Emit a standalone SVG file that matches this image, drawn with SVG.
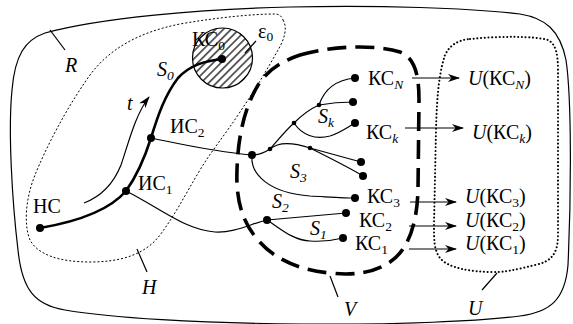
<svg xmlns="http://www.w3.org/2000/svg" width="573" height="324" viewBox="0 0 573 324">
<style>
text{font-family:"Liberation Serif","Times New Roman",Times,serif;font-size:20px;fill:#000}
.it{font-style:italic}
.sub{font-size:13.5px}
.ln{fill:none;stroke:#000;stroke-width:1.2}
.thick{fill:none;stroke:#000;stroke-width:2.6}
.dot{fill:#000}
</style>
<defs>
<pattern id="hatch" patternUnits="userSpaceOnUse" width="5.5" height="10" patternTransform="rotate(45)">
<line x1="2.7" y1="0" x2="2.7" y2="10" stroke="#000" stroke-width="1.2"/>
</pattern>
<marker id="arr" viewBox="0 0 12 8" refX="11" refY="4" markerWidth="12" markerHeight="8" markerUnits="userSpaceOnUse" orient="auto">
<path d="M0,0 L12,4 L0,8 L3.5,4 Z" fill="#000"/>
</marker>
</defs>
<rect width="573" height="324" fill="#fff"/>
<g id="regions">
<path id="R" class="ln" d="M45,33 C100,18 200,9 290,7 C380,5 470,8 520,14 C545,18 560,30 566,60 C572,100 571,200 568,265 C565,300 550,312 520,316 C480,321 400,325 300,324 C200,323 110,318 65,310 C35,305 22,290 18,250 C12,200 8,130 12,90 C15,55 25,40 45,33 Z"/>
<path id="H" fill="none" stroke="#000" stroke-width="1" stroke-dasharray="2,2" d="M283,20 C288,28 284,40 278,50 C268,68 255,90 240,112 C225,135 212,150 200,170 C185,195 175,215 160,235 C145,255 120,262 90,262 C60,262 38,255 30,240 C24,225 25,200 35,175 C45,150 65,110 90,75 C110,48 140,32 180,24 C220,17 255,14 275,14 C280,14 282,17 283,20 Z"/>
<path id="V" fill="none" stroke="#000" stroke-width="3.6" stroke-dasharray="19,9" d="M300,55 C330,46 375,44 400,52 C415,58 419,75 419,100 L418,190 C417,225 408,250 390,262 C375,272 355,276 330,273 C300,270 275,260 258,240 C240,220 236,195 237,170 C238,135 245,105 260,82 C270,68 285,60 300,55 Z"/>
<path id="U" fill="none" stroke="#000" stroke-width="2" stroke-linecap="round" stroke-dasharray="0.1,3.6" d="M470,39 C500,36 535,36 548,40 C556,44 558,55 558,70 L558,235 C558,255 550,262 535,265 C515,270 505,272 495,272 C470,272 448,268 440,258 C434,250 434,240 434,225 L436,130 C437,90 440,70 445,55 C450,45 458,40 470,39 Z"/>
<circle id="eps0" cx="222.5" cy="58" r="30" fill="url(#hatch)" stroke="#000" stroke-width="1.2"/>
<line class="ln" x1="50" y1="30" x2="65" y2="50"/>
<line class="ln" x1="137" y1="249" x2="147" y2="272"/>
<line class="ln" x1="330" y1="276" x2="338" y2="297"/>
<line class="ln" x1="497" y1="273" x2="482" y2="290"/>
<line class="ln" x1="256" y1="41" x2="245" y2="53"/>
<text class="it" x="65" y="72">R</text>
<text class="it" x="142" y="294">H</text>
<text class="it" x="344" y="316">V</text>
<text class="it" x="468" y="315">U</text>
<text x="258" y="38">ε<tspan class="sub" dy="3">0</tspan></text>
</g>
<g id="connectors">
<path class="thick" d="M40,228 C75,222 108,212 126,191 C136,177 144,160 151,138 C158,115 165,95 178,78 C190,65 205,61 222,59"/>
<path class="ln" marker-end="url(#arr)" d="M84,203 C105,195 115,180 121,165 C128,145 135,115 149,97"/>
<path class="ln" d="M151,138 C185,145 215,152 252,155"/>
<path class="ln" d="M126,191 C160,208 185,230 215,232 C235,233 250,224 267,220"/>
<path class="ln" d="M252,155 C258,155 264,153 270,149"/>
<path class="ln" d="M270,149 C278,140 286,130 294,123"/>
<path class="ln" d="M294,123 C302,115 310,109 319,105"/>
<path class="ln" d="M319,105 C324,90 335,80 355,78"/>
<path class="ln" d="M319,105 C330,103 342,102 353,102"/>
<path class="ln" d="M294,123 C302,135 315,140 330,136 C340,133 348,127 355,123"/>
<path class="ln" d="M270,149 C278,142 292,142 310,148 L361,162"/>
<path class="ln" d="M310,148 C330,158 350,168 363,176"/>
<path class="ln" d="M252,155 C250,175 270,193 310,196 C330,197 345,198 355,198"/>
<path class="ln" d="M267,220 L346,213"/>
<path class="ln" d="M267,220 C280,228 292,240 310,241 C325,242 335,240 343,238"/>
<line class="ln" x1="412" y1="78" x2="459" y2="78" marker-end="url(#arr)"/>
<line class="ln" x1="405" y1="128" x2="463" y2="128" marker-end="url(#arr)"/>
<line class="ln" x1="410" y1="202" x2="456" y2="202" marker-end="url(#arr)"/>
<line class="ln" x1="409" y1="226" x2="456" y2="226" marker-end="url(#arr)"/>
<line class="ln" x1="409" y1="249" x2="456" y2="249" marker-end="url(#arr)"/>
<circle class="dot" cx="270" cy="149" r="2.3"/>
<circle class="dot" cx="294" cy="123" r="2.3"/>
<circle class="dot" cx="319" cy="105" r="2.3"/>
<circle class="dot" cx="310" cy="148" r="2.3"/>
<circle class="dot" cx="353" cy="102" r="4"/>
<circle class="dot" cx="361" cy="162" r="4"/>
<circle class="dot" cx="363" cy="176" r="4"/>
<text class="it" x="157" y="76">S<tspan class="sub" dy="4">0</tspan></text>
<text class="it" x="127" y="110">t</text>
<text class="it" x="318" y="123">S<tspan class="sub" dy="4">k</tspan></text>
<text class="it" x="290" y="178">S<tspan class="sub" dy="4">3</tspan></text>
<text class="it" x="272" y="208">S<tspan class="sub" dy="4">2</tspan></text>
<text class="it" x="310" y="235">S<tspan class="sub" dy="4">1</tspan></text>
</g>
<g id="node-NS"><circle class="dot" cx="40" cy="228" r="4"/><text x="33" y="213">НС</text></g>
<g id="node-IS1"><circle class="dot" cx="126" cy="191" r="4"/><text x="138" y="190">ИС<tspan class="sub" dy="4">1</tspan></text></g>
<g id="node-IS2"><circle class="dot" cx="151" cy="138" r="4"/><text x="170" y="133">ИС<tspan class="sub" dy="4">2</tspan></text></g>
<g id="node-KS0"><circle class="dot" cx="222" cy="59" r="4"/><text x="192" y="46">КС<tspan class="sub" dy="4">0</tspan></text></g>
<g id="node-J"><circle class="dot" cx="252" cy="155" r="4"/></g>
<g id="node-S2"><circle class="dot" cx="267" cy="220" r="4"/></g>
<g id="node-KSN"><circle class="dot" cx="355" cy="78" r="4"/><text x="368" y="85">КС<tspan class="sub it" dy="4">N</tspan></text></g>
<g id="node-KSk"><circle class="dot" cx="355" cy="123" r="4"/><text x="366" y="139">КС<tspan class="sub it" dy="4">k</tspan></text></g>
<g id="node-KS3"><circle class="dot" cx="355" cy="198" r="4"/><text x="367" y="203">КС<tspan class="sub" dy="4">3</tspan></text></g>
<g id="node-KS2"><circle class="dot" cx="346" cy="213" r="4"/><text x="359" y="227">КС<tspan class="sub" dy="4">2</tspan></text></g>
<g id="node-KS1"><circle class="dot" cx="343" cy="238" r="4"/><text x="355" y="250">КС<tspan class="sub" dy="4">1</tspan></text></g>
<g id="node-UKSN"><text x="468" y="85"><tspan class="it">U</tspan>(КС<tspan class="sub it" dy="4">N</tspan><tspan dy="-4">)</tspan></text></g>
<g id="node-UKSk"><text x="472" y="139"><tspan class="it">U</tspan>(КС<tspan class="sub it" dy="4">k</tspan><tspan dy="-4">)</tspan></text></g>
<g id="node-UKS3"><text x="465" y="203"><tspan class="it">U</tspan>(КС<tspan class="sub" dy="4">3</tspan><tspan dy="-4">)</tspan></text></g>
<g id="node-UKS2"><text x="465" y="227"><tspan class="it">U</tspan>(КС<tspan class="sub" dy="4">2</tspan><tspan dy="-4">)</tspan></text></g>
<g id="node-UKS1"><text x="465" y="250"><tspan class="it">U</tspan>(КС<tspan class="sub" dy="4">1</tspan><tspan dy="-4">)</tspan></text></g>
</svg>
